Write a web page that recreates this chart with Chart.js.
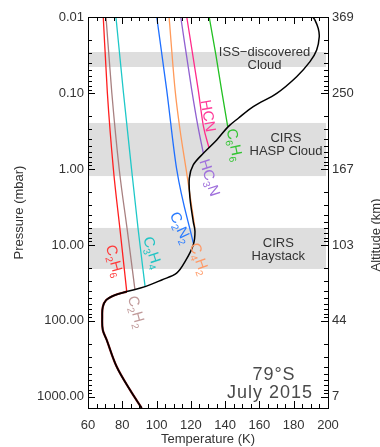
<!DOCTYPE html>
<html>
<head>
<meta charset="utf-8">
<script src="https://cdn.jsdelivr.net/npm/chart.js@4.4.0/dist/chart.umd.min.js"></script>
<style>
  html, body { margin: 0; padding: 0; background: #fff; }
  #wrap { width: 380px; height: 447px; }
</style>
</head>
<body>
<div id="wrap"><canvas id="titan-profile"></canvas></div>
<script>
// Temperature profile (K) vs pressure (mbar)
const profileT = [191.1, 192.4, 194.3, 194.9, 193.4, 189.5, 181.7, 170.1, 156.4, 147.7, 141.8, 135.1, 127.3, 121.4, 119.1, 119.5, 121.4, 122.4, 121.4, 116.6, 111.7, 103.0, 93.3, 82.6, 75.5, 70.5, 68.6, 68.3, 68.6, 70.9, 76.7, 84.5, 91.3];
const profileP = [0.01, 0.011, 0.0141, 0.0182, 0.0272, 0.0387, 0.061, 0.101, 0.151, 0.215, 0.277, 0.415, 0.621, 0.885, 1.32, 2.43, 4.93, 6.68, 10.0, 16.6, 23.5, 28.9, 35.4, 41.1, 46.0, 53.5, 66.0, 88.0, 131, 178, 399, 809, 1400];

// condensation curves
const c2h6T = [68.9, 71.3, 74.8, 78.7, 82.6];
const c2h6P = [0.01, 0.1, 1, 6.35, 41.1];
const c2h2T = [70.5, 73.9, 78.2, 82.9, 87.4];
const c2h2P = [0.01, 0.1, 1, 6.35, 39.1];
const c3h4T = [76.3, 80.7, 85.4, 89.3, 93.3];
const c3h4P = [0.01, 0.1, 1, 6.35, 35.4];
const c2n2T = [100.1, 105.9, 111.7, 121.4];
const c2n2P = [0.01, 0.091, 1, 9.42];
const c4h2T = [107.3, 110.8, 113.7, 117.2, 122.4];
const c4h2P = [0.01, 0.091, 0.307, 1, 6.03];
const hc3nT = [114.1, 120.5, 124.0, 127.3];
const hc3nP = [0.01, 0.091, 0.264, 0.621];
const hcnT = [117.6, 124.3, 127.2, 130.6];
const hcnP = [0.01, 0.091, 0.264, 0.53];
const c6h6T = [130.7, 134.6, 137.9, 141.5];
const c6h6P = [0.01, 0.0316, 0.091, 0.277];

// cloud layers (pressure ranges, mbar)
const bandNames = [['ISS\u2212discovered', 'Cloud'], ['CIRS', 'HASP Cloud'], ['CIRS', 'Haystack']];
const bandTop = [0.0289, 0.248, 5.97];
const bandBottom = [0.0455, 1.24, 20.7];

// tick labels
const pressureDecades = [0.01, 0.1, 1, 10, 100, 1000];
const altitudeLabels = ['369', '250', '167', '103', '44', '7'];

const FONT = '"Liberation Sans", Arial, sans-serif';

function pts(T, P) {
    return T.map(function (t, i) { return {x: t, y: P[i]}; });
}
function decadeIndex(v) {
    for (var i = 0; i < pressureDecades.length; i++) {
        if (Math.abs(v / pressureDecades[i] - 1) < 1e-6) return i;
    }
    return -1;
}

// curve labels: [text, T, P, angle, colour]
const curveLabels = [
    ['HCN', 129.7, 0.201, 80, '#ff3d9a'],
    ['C6H6', 145.2, 0.483, 78, '#33c433'],
    ['HC3N', 130.6, 1.31, 72, '#9f6fdc'],
    ['C2N2', 113.7, 5.97, 65, '#2a7bff'],
    ['C4H2', 124.7, 15.3, 70, '#ff9966'],
    ['C3H4', 97.3, 12.7, 72, '#22c4c4'],
    ['C2H6', 75.2, 16.3, 75, '#ff3b3b'],
    ['C2H2', 88.0, 76.2, 75, '#c09a9a']
];
const bandLabelT = [163, 175.5, 171];
const bandLabelP = [0.036, 0.483, 11.5];

function drawChem(ctx, text, x, y, angle, color) {
    var big = '15px ' + FONT, small = '10px ' + FONT;
    var w = 0;
    for (var i = 0; i < text.length; i++) {
        ctx.font = /[0-9]/.test(text[i]) ? small : big;
        w += ctx.measureText(text[i]).width;
    }
    ctx.save();
    ctx.translate(x, y);
    ctx.rotate(angle * Math.PI / 180);
    ctx.fillStyle = color;
    ctx.textBaseline = 'middle';
    ctx.textAlign = 'left';
    var cx = -w / 2;
    for (var j = 0; j < text.length; j++) {
        var sub = /[0-9]/.test(text[j]);
        ctx.font = sub ? small : big;
        ctx.fillText(text[j], cx, sub ? 5 : 0);
        cx += ctx.measureText(text[j]).width;
    }
    ctx.restore();
}

const decorPlugin = {
    id: 'decor',
    beforeDatasetsDraw: function (chart) {
        var ctx = chart.ctx, a = chart.chartArea, y = chart.scales.y;
        ctx.save();
        ctx.fillStyle = '#dedede';
        for (var i = 0; i < bandTop.length; i++) {
            var y1 = y.getPixelForValue(bandTop[i]), y2 = y.getPixelForValue(bandBottom[i]);
            ctx.fillRect(a.left, y1, a.right - a.left - 2, y2 - y1);
        }
        ctx.restore();
    },
    afterDatasetsDraw: function (chart) {
        var ctx = chart.ctx, a = chart.chartArea, x = chart.scales.x, y = chart.scales.y;
        ctx.save();
        // band labels
        ctx.fillStyle = '#333';
        ctx.font = '13px ' + FONT;
        ctx.textAlign = 'center';
        ctx.textBaseline = 'middle';
        for (var i = 0; i < bandNames.length; i++) {
            var bx = x.getPixelForValue(bandLabelT[i]), by = y.getPixelForValue(bandLabelP[i]);
            var n = bandNames[i].length;
            bandNames[i].forEach(function (line, k) {
                ctx.fillText(line, bx, by + (k - (n - 1) / 2) * 13);
            });
        }
        curveLabels.forEach(function (l) {
            drawChem(ctx, l[0], x.getPixelForValue(l[1]), y.getPixelForValue(l[2]), l[3], l[4]);
        });
        // date / latitude
        ctx.fillStyle = '#4a4a4a';
        ctx.font = '18px ' + FONT;
        ctx.letterSpacing = '1px';
        ctx.textAlign = 'center';
        ctx.fillText('79\u00b0S', x.getPixelForValue(168.5), y.getPixelForValue(514));
        ctx.fillText('July 2015', x.getPixelForValue(166.2), y.getPixelForValue(885));
        ctx.letterSpacing = '0px';

        // frame and inward ticks
        ctx.strokeStyle = '#000';
        ctx.lineWidth = 1;
        ctx.strokeRect(Math.round(a.left) + 0.5, Math.round(a.top) + 0.5, Math.round(a.right - a.left), Math.round(a.bottom - a.top));
        ctx.beginPath();
        for (var t = 60; t <= 200; t += 5) {
            var px = Math.round(x.getPixelForValue(t)) + 0.5, len = t % 20 === 0 ? 7 : 4;
            ctx.moveTo(px, a.bottom); ctx.lineTo(px, a.bottom - len);
            ctx.moveTo(px, a.top); ctx.lineTo(px, a.top + len);
        }
        for (var d = 0; d < pressureDecades.length; d++) {
            for (var k = 1; k <= 9; k++) {
                var p = k * pressureDecades[d];
                if (p > y.max) break;
                var py = Math.round(y.getPixelForValue(p)) + 0.5, ln = k === 1 ? 7 : 4;
                ctx.moveTo(a.left, py); ctx.lineTo(a.left + ln, py);
                ctx.moveTo(a.right, py); ctx.lineTo(a.right - ln, py);
            }
        }
        ctx.stroke();

        // right axis title
        ctx.fillStyle = '#333';
        ctx.font = '13px ' + FONT;
        ctx.translate(376, 235);
        ctx.rotate(-Math.PI / 2);
        ctx.fillText('Altitude (km)', 0, 0);
        ctx.restore();
    }
};

function line(data, color, width) {
    return {data: data, borderColor: color, borderWidth: width, pointRadius: 0, fill: false, cubicInterpolationMode: 'monotone'};
}

var ctx = document.getElementById('titan-profile');

var profile = line(pts(profileT, profileP), '#000000', 1.5);
profile.cubicInterpolationMode = 'default';
profile.tension = 0.35;
var profileLow = line(pts(profileT.slice(23), profileP.slice(23)), '#8b1010', 2.2);
profileLow.cubicInterpolationMode = 'default';
profileLow.tension = 0.35;

var config = {
    type: 'line',
    data: {
        datasets: [
            profile,
            profileLow,
            line(pts(c2h6T, c2h6P), '#ff1e1e', 1.3),
            line(pts(c2h2T, c2h2P), '#a88080', 1.3),
            line(pts(c3h4T, c3h4P), '#1ec8c8', 1.3),
            line(pts(c2n2T, c2n2P), '#1e6fff', 1.3),
            line(pts(c4h2T, c4h2P), '#ff9a5a', 1.3),
            line(pts(hc3nT, hc3nP), '#9060d0', 1.3),
            line(pts(hcnT, hcnP), '#ff2a8a', 1.3),
            line(pts(c6h6T, c6h6P), '#22c022', 1.3)
        ]
    },
    options: {
        responsive: true,
        maintainAspectRatio: false,
        animation: false,
        layout: {padding: {top: 17, left: 0, right: 0, bottom: 0}},
        plugins: {legend: {display: false}, tooltip: {enabled: false}},
        scales: {
            x: {
                type: 'linear', min: 60, max: 200,
                grid: {display: false, drawTicks: false},
                border: {display: false},
                ticks: {stepSize: 20, padding: 10, color: '#333', font: {family: FONT, size: 13}},
                title: {display: true, text: 'Temperature (K)', color: '#333', font: {family: FONT, size: 13}, padding: {top: 0, bottom: 0}},
                afterFit: function (s) { s.height = 39; }
            },
            y: {
                type: 'logarithmic', position: 'left', reverse: true, min: 0.01, max: 1400,
                grid: {display: false, drawTicks: false},
                border: {display: false},
                ticks: {
                    autoSkip: false, padding: 4, color: '#333', font: {family: FONT, size: 13},
                    callback: function (v) { return decadeIndex(v) >= 0 ? v.toFixed(2) : ''; }
                },
                title: {display: true, text: 'Pressure (mbar)', color: '#333', font: {family: FONT, size: 13}, padding: {top: 12, bottom: 0}},
                afterFit: function (s) { s.width = 88; }
            },
            y2: {
                type: 'logarithmic', position: 'right', reverse: true, min: 0.01, max: 1400,
                grid: {display: false, drawTicks: false},
                border: {display: false},
                ticks: {
                    autoSkip: false, padding: 4, color: '#333', font: {family: FONT, size: 13},
                    callback: function (v) { var i = decadeIndex(v); return i >= 0 ? altitudeLabels[i] : ''; }
                },
                afterFit: function (s) { s.width = 52; }
            }
        }
    },
    plugins: [decorPlugin]
};

var chart = new Chart(ctx, config);
</script>
</body>
</html>
